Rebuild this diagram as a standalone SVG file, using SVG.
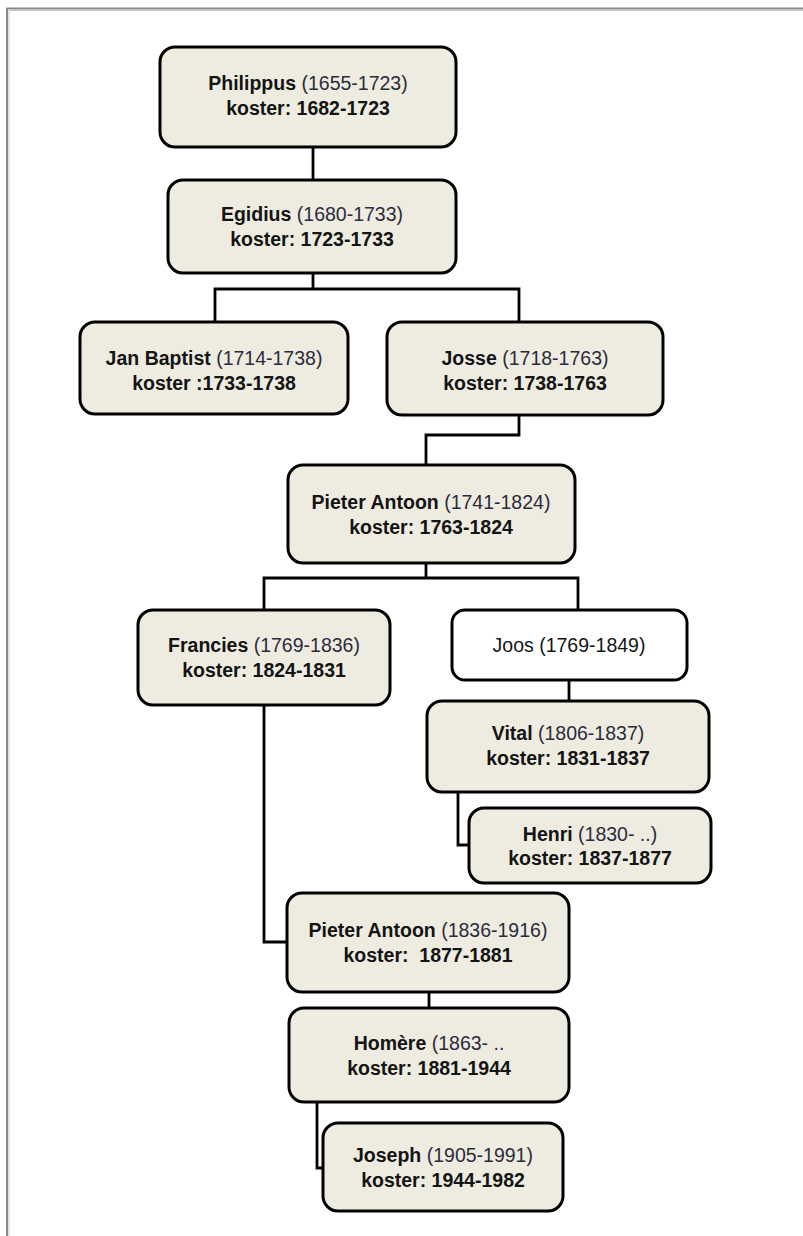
<svg xmlns="http://www.w3.org/2000/svg" width="803" height="1236" viewBox="0 0 803 1236">
<style>
.bg{fill:#ffffff}
.box{fill:#EEECE1;stroke:#000;stroke-width:3}
.wbox{fill:#ffffff;stroke:#000;stroke-width:3}
.conn{fill:none;stroke:#000;stroke-width:2.8;stroke-linejoin:miter}
text{font-family:"Liberation Sans",Arial,sans-serif;font-size:19.5px;fill:#141414;text-anchor:middle;white-space:pre}
.b{font-weight:bold}
.yr{fill:#2b2b3a}
</style>
<rect class="bg" x="0" y="0" width="803" height="1236"/>
<g id="page-border">
<path d="M7 1236 V8.5 H803" fill="none" stroke="#8a8a8a" stroke-width="2"/>
<path d="M9 1236 V10.5 H803" fill="none" stroke="#c8c8c8" stroke-width="1"/>
</g>
<g id="connectors">
<path class="conn" d="M313 147 V180"/>
<path class="conn" d="M313 273 V289 M215 322 V289 H519 V322"/>
<path class="conn" d="M519 415 V435 H426 V465"/>
<path class="conn" d="M426 563 V578 M264 610 V578 H578 V610"/>
<path class="conn" d="M569 680 V701"/>
<path class="conn" d="M458 792 V845 H469"/>
<path class="conn" d="M264 705 V942 H287"/>
<path class="conn" d="M429 992 V1008"/>
<path class="conn" d="M317 1102 V1168 H323"/>
</g>
<g id="philippus">
<rect class="box" x="160" y="47" width="296" height="100" rx="15"/>
<text x="308" y="90"><tspan class="b">Philippus</tspan><tspan class="yr"> (1655-1723)</tspan></text>
<text x="308" y="115" class="b">koster: 1682-1723</text>
</g>
<g id="egidius">
<rect class="box" x="168" y="180" width="288" height="93" rx="15"/>
<text x="312" y="221"><tspan class="b">Egidius</tspan><tspan class="yr"> (1680-1733)</tspan></text>
<text x="312" y="246" class="b">koster: 1723-1733</text>
</g>
<g id="jan-baptist">
<rect class="box" x="80" y="322" width="268" height="92" rx="15"/>
<text x="214" y="365"><tspan class="b">Jan Baptist</tspan><tspan class="yr"> (1714-1738)</tspan></text>
<text x="214" y="390" class="b">koster :1733-1738</text>
</g>
<g id="josse">
<rect class="box" x="387" y="322" width="276" height="93" rx="15"/>
<text x="525" y="365"><tspan class="b">Josse</tspan><tspan class="yr"> (1718-1763)</tspan></text>
<text x="525" y="390" class="b">koster: 1738-1763</text>
</g>
<g id="pieter-antoon-1741">
<rect class="box" x="288" y="465" width="287" height="98" rx="15"/>
<text x="431" y="509"><tspan class="b">Pieter Antoon</tspan><tspan class="yr"> (1741-1824)</tspan></text>
<text x="431" y="534" class="b">koster: 1763-1824</text>
</g>
<g id="francies">
<rect class="box" x="138" y="610" width="252" height="95" rx="15"/>
<text x="264" y="652"><tspan class="b">Francies</tspan><tspan class="yr"> (1769-1836)</tspan></text>
<text x="264" y="677" class="b">koster: 1824-1831</text>
</g>
<g id="joos">
<rect class="wbox" x="452" y="610" width="235" height="70" rx="13"/>
<text x="569" y="652">Joos (1769-1849)</text>
</g>
<g id="vital">
<rect class="box" x="427" y="701" width="282" height="91" rx="15"/>
<text x="568" y="740"><tspan class="b">Vital</tspan><tspan class="yr"> (1806-1837)</tspan></text>
<text x="568" y="765" class="b">koster: 1831-1837</text>
</g>
<g id="henri">
<rect class="box" x="469" y="808" width="242" height="75" rx="15"/>
<text x="590" y="841"><tspan class="b">Henri</tspan><tspan class="yr"> (1830- ..)</tspan></text>
<text x="590" y="865" class="b">koster: 1837-1877</text>
</g>
<g id="pieter-antoon-1836">
<rect class="box" x="287" y="893" width="282" height="99" rx="15"/>
<text x="428" y="937"><tspan class="b">Pieter Antoon</tspan><tspan class="yr"> (1836-1916)</tspan></text>
<text x="428" y="962" class="b">koster:  1877-1881</text>
</g>
<g id="homere">
<rect class="box" x="289" y="1008" width="280" height="94" rx="15"/>
<text x="429" y="1050"><tspan class="b">Homère</tspan><tspan class="yr"> (1863- ..</tspan></text>
<text x="429" y="1075" class="b">koster: 1881-1944</text>
</g>
<g id="joseph">
<rect class="box" x="323" y="1123" width="240" height="88" rx="15"/>
<text x="443" y="1162"><tspan class="b">Joseph</tspan><tspan class="yr"> (1905-1991)</tspan></text>
<text x="443" y="1187" class="b">koster: 1944-1982</text>
</g>
</svg>
